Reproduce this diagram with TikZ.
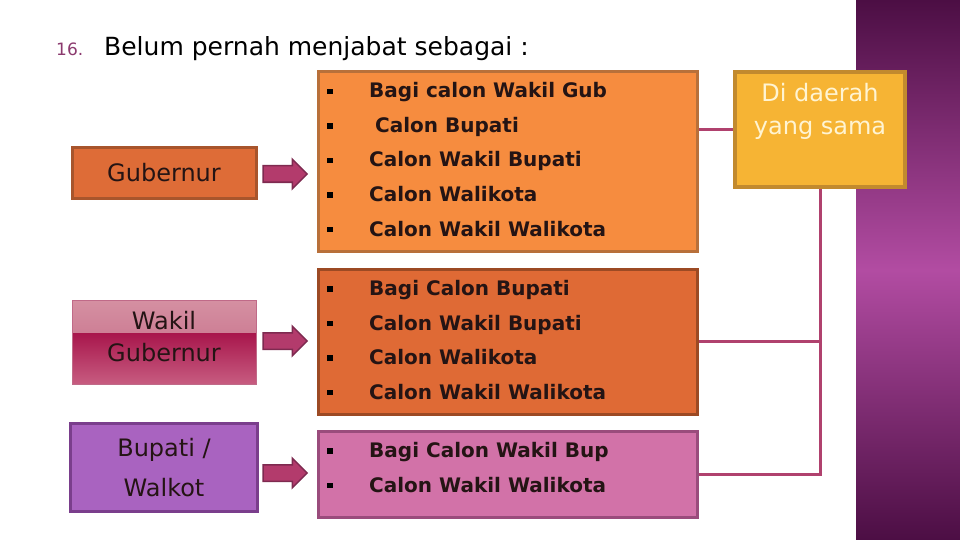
\documentclass[tikz,border=0pt]{standalone}
\usepackage{fontspec}
\setmainfont{DejaVu Sans}
\usetikzlibrary{shapes.arrows}

\definecolor{teks}{HTML}{241414}
\definecolor{nomor}{HTML}{8B3A6E}
\definecolor{oranyeA}{HTML}{F68C3F}
\definecolor{oranyeAgaris}{HTML}{B8703A}
\definecolor{oranyeB}{HTML}{DF6A35}
\definecolor{oranyeBgaris}{HTML}{9C4A24}
\definecolor{gubisi}{HTML}{DE6C37}
\definecolor{gubgaris}{HTML}{A8552C}
\definecolor{wgatas}{HTML}{D590A2}
\definecolor{wgtengah}{HTML}{C26682}
\definecolor{wgbawah}{HTML}{A8164C}
\definecolor{wgdasar}{HTML}{C75C80}
\definecolor{wggaris}{HTML}{C06A88}
\definecolor{merahmuda}{HTML}{D272A8}
\definecolor{merahmudagaris}{HTML}{9A4C7C}
\definecolor{ungu}{HTML}{A963C0}
\definecolor{ungugaris}{HTML}{7A3E8C}
\definecolor{panah}{HTML}{B33B6C}
\definecolor{panahgaris}{HTML}{7E2A50}
\definecolor{garis}{HTML}{B0416E}
\definecolor{emas}{HTML}{F6B434}
\definecolor{emasgaris}{HTML}{C28A2E}
\definecolor{krem}{HTML}{FFF4D2}
\definecolor{panelgelap}{HTML}{4C0E44}
\definecolor{panelterang}{HTML}{B24CA2}

\begin{document}
\begin{tikzpicture}[x=1pt,y=-1pt]
        \tikzstyle{kotak}=[draw, line width=3pt, inner sep=0pt, minimum width=184pt, align=center, text=teks, font=\fontsize{24}{32}\selectfont]
        \tikzstyle{daftar}=[draw, line width=3pt, minimum width=379pt, inner sep=0pt]
        \tikzstyle{panahblok}=[single arrow, draw=panahgaris, fill=panah, line width=1.5pt, minimum height=44pt, text height=8pt, text depth=7pt, single arrow head extend=6.5pt, inner sep=0pt]
        \tikzstyle{titik}=[fill=black, minimum size=5.5pt, inner sep=0pt]
        \tikzstyle{butir}=[anchor=base west, inner sep=0pt, text=teks, font=\fontsize{20}{24}\selectfont\bfseries]
        \tikzstyle{sambung}=[draw=garis, line width=3pt]

        \useasboundingbox (0,0) rectangle (960,540);
        \shade[top color=panelgelap, bottom color=panelgelap, middle color=panelterang] (856,0) rectangle (960,540);

        % judul
        \node[anchor=base west, inner sep=0pt, text=nomor, font=\fontsize{17}{20}\selectfont] (no) at (56,56) {16.};
        \node[anchor=base west, inner sep=0pt, font=\fontsize{25}{30}\selectfont] (judul) at (104,56) {Belum pernah menjabat sebagai :};

        % jabatan
        \node[kotak, fill=gubisi, draw=gubgaris, minimum height=50pt] (gub) at (164,173) {Gubernur};
        \node[kotak, draw=wggaris, line width=1pt, minimum height=84pt,
              path picture={
                \shade[top color=wgatas, bottom color=wgtengah] (path picture bounding box.north west) rectangle ([yshift=9pt]path picture bounding box.east);
                \shade[top color=wgbawah, bottom color=wgdasar] ([yshift=9pt]path picture bounding box.west) rectangle (path picture bounding box.south east);
              }] (wgub) at (164,342) {};
        \node[align=center, inner sep=0pt, text=teks, font=\fontsize{24}{32}\selectfont] (wgteks) at (164,337) {Wakil\\Gubernur};
        \node[kotak, fill=ungu, draw=ungugaris, minimum width=187pt, minimum height=88pt, font=\fontsize{24}{40}\selectfont] (bup) at (164,467.5) {Bupati /\\Walkot};

        % daftar
        \node[daftar, fill=oranyeA, draw=oranyeAgaris, minimum height=179pt] (d1) at (507.5,161.5) {};
        \node[daftar, fill=oranyeB, draw=oranyeBgaris, minimum height=145pt] (d2) at (507.5,341.5) {};
        \node[daftar, fill=merahmuda, draw=merahmudagaris, minimum height=86pt] (d3) at (507.5,474) {};

        \foreach \t [count=\i] in {Bagi calon Wakil Gub, \hspace{6pt}Calon Bupati, Calon Wakil Bupati, Calon Walikota, Calon Wakil Walikota}{
            \node[titik] (ta\i) at (330,57+34.5*\i) {};
            \node[butir] (a\i) at (369,63.5+34.5*\i) {\t};
        }
        \foreach \t [count=\i] in {Bagi Calon Bupati, Calon Wakil Bupati, Calon Walikota, Calon Wakil Walikota}{
            \node[titik] (tb\i) at (330,254.5+34.5*\i) {};
            \node[butir] (b\i) at (369,261+34.5*\i) {\t};
        }
        \foreach \t [count=\i] in {Bagi Calon Wakil Bup, Calon Wakil Walikota}{
            \node[titik] (tc\i) at (330,416.5+34.5*\i) {};
            \node[butir] (c\i) at (369,423+34.5*\i) {\t};
        }

        % panah
        \node[panahblok] (p1) at (281,174) {};
        \node[panahblok] (p2) at (281,341) {};
        \node[panahblok] (p3) at (281,473) {};

        % daerah
        \node[draw=emasgaris, fill=emas, line width=4pt, minimum width=170pt, minimum height=115pt, inner sep=0pt] (dd) at (820,129.5) {};
        \node[align=center, text=krem, inner sep=0pt, font=\fontsize{24}{33}\selectfont] (ddteks) at (820,111) {Di daerah\\yang sama};

        \draw[sambung] (d1.east |- dd.west) -- (dd.west);
        \draw[sambung] (d2.east) -- (d2.east -| dd.south);
        \draw[sambung] (d3.east) -| (dd.south);
    \end{tikzpicture}
\end{document}
